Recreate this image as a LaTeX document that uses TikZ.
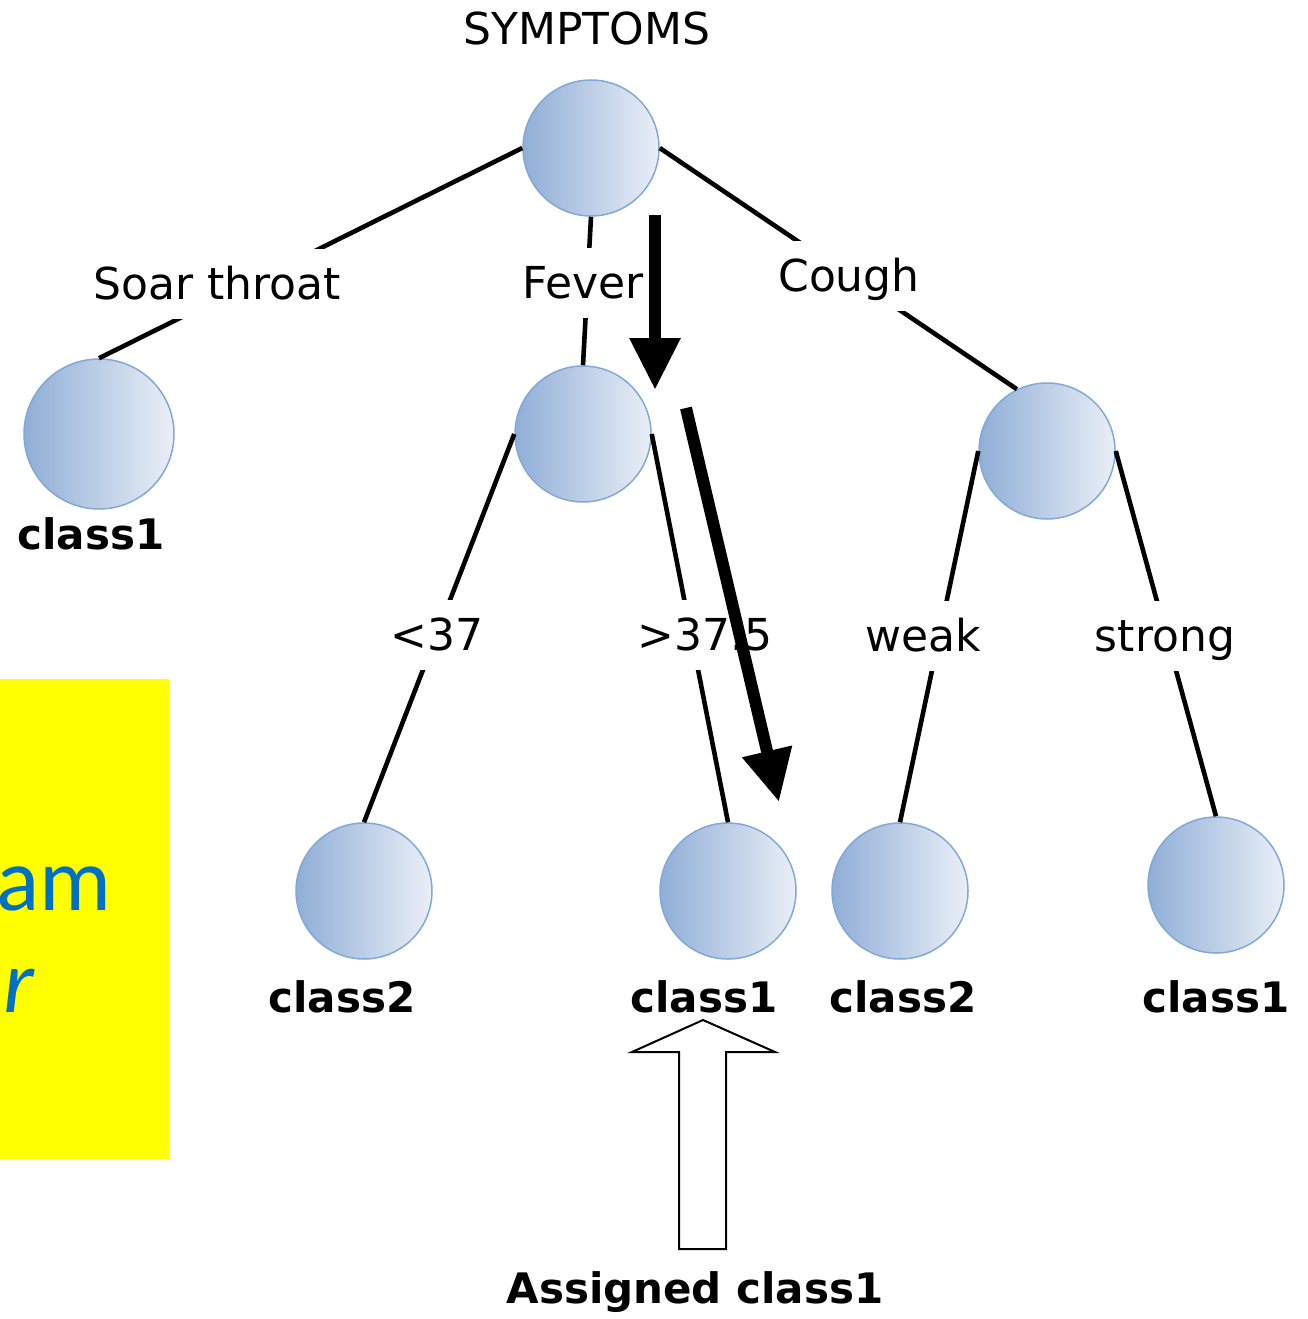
\documentclass[tikz,border=0pt]{standalone}
\usepackage{fontspec}
\setmainfont{DejaVu Sans}
\newfontfamily\notefont{Carlito}
\usetikzlibrary{arrows.meta}
\definecolor{nodeL}{RGB}{144,174,214}
\definecolor{nodeR}{RGB}{234,239,247}
\definecolor{nodeB}{RGB}{130,168,214}
\definecolor{noteblue}{RGB}{0,112,192}
\definecolor{noteyellow}{RGB}{255,255,0}

\begin{document}
\begin{tikzpicture}[x=1pt,y=-1pt,
  tnode/.style={circle, draw=nodeB, line width=1.5pt, left color=nodeL,
    right color=nodeR, minimum size=136pt, inner sep=0pt},
  edge/.style={line width=4.6pt},
  title/.style={font=\fontsize{44}{50}\selectfont, anchor=base, inner sep=0pt},
  lbl/.style={font=\fontsize{44}{50}\selectfont, fill=white, anchor=base,
    text height=34pt, text depth=4pt, inner ysep=16pt, inner xsep=4pt},
  cls/.style={font=\fontsize{42}{50}\selectfont\bfseries, anchor=base, inner sep=0pt},
  bigarrow/.style={line width=12pt, -{Triangle[length=52pt,width=48pt]}},
  notetext/.style={font=\fontsize{90}{100}\selectfont\notefont, text=noteblue,
    anchor=base east, inner sep=0pt}
]
\useasboundingbox (0,0) rectangle (1307,1319);

% side note panel, cut at the left edge
\fill[noteyellow] (0,679) rectangle (169,1159);
\begin{scope}
  \clip (0,679) rectangle (169,1159);
  \node[notetext] (noteA) at (112,910) {am};
  \node[notetext] (noteB) at (35,1012) {\itshape r};
\end{scope}

% tree nodes
\node[tnode] (root) at (591,148) {};
\node[tnode, minimum size=150pt] (sore) at (99,434) {};
\node[tnode] (fever) at (583,434) {};
\node[tnode] (cough) at (1047,451) {};
\node[tnode] (low) at (364,891) {};
\node[tnode] (high) at (728,891) {};
\node[tnode] (weak) at (900,891) {};
\node[tnode] (strong) at (1216,885) {};

% branches
\draw[edge] (root.west) -- (sore.north);
\draw[edge] (root.south) -- (fever.north);
\draw[edge] (root.east) -- (cough.116);
\draw[edge] (fever.west) -- (low.north);
\draw[edge] (fever.east) -- (high.north);
\draw[edge] (cough.west) -- (weak.north);
\draw[edge] (cough.east) -- (strong.north);

% branch labels
\node[title] (tSym) at (587,45) {SYMPTOMS};
\node[lbl] (lSore) at (217,299) {Soar throat};
\node[lbl] (lFever) at (583,298) {Fever};
\node[lbl] (lCough) at (849,291) {Cough};
\node[lbl] (lLow) at (437,650) {<37};
\node[lbl] (lHigh) at (705,650) {>37.5};
\node[lbl] (lWeak) at (923,651) {weak};
\node[lbl] (lStrong) at (1165,651) {strong};

% class labels
\node[cls] (cSore) at (91,549) {class1};
\node[cls] (cLow) at (342,1012) {class2};
\node[cls] (cHigh) at (704,1012) {class1};
\node[cls] (cWeak) at (903,1012) {class2};
\node[cls] (cStrong) at (1216,1012) {class1};
\node[cls] (cAssign) at (695,1303) {Assigned class1};

% decision path arrows
\coordinate (p1s) at (655,215);
\coordinate (p1e) at (655,390);
\coordinate (p2s) at (686,408);
\coordinate (p2e) at (779,802);
\draw[bigarrow] (p1s) -- (p1e);
\draw[bigarrow] (p2s) -- (p2e);

% hollow arrow pointing at the result
\draw[line width=2pt, fill=white, line join=miter]
  (679,1249) -- (726,1249) -- (726,1052) -- (775,1052) -- (703,1020)
  -- (632,1052) -- (679,1052) -- cycle;
\end{tikzpicture}
\end{document}
